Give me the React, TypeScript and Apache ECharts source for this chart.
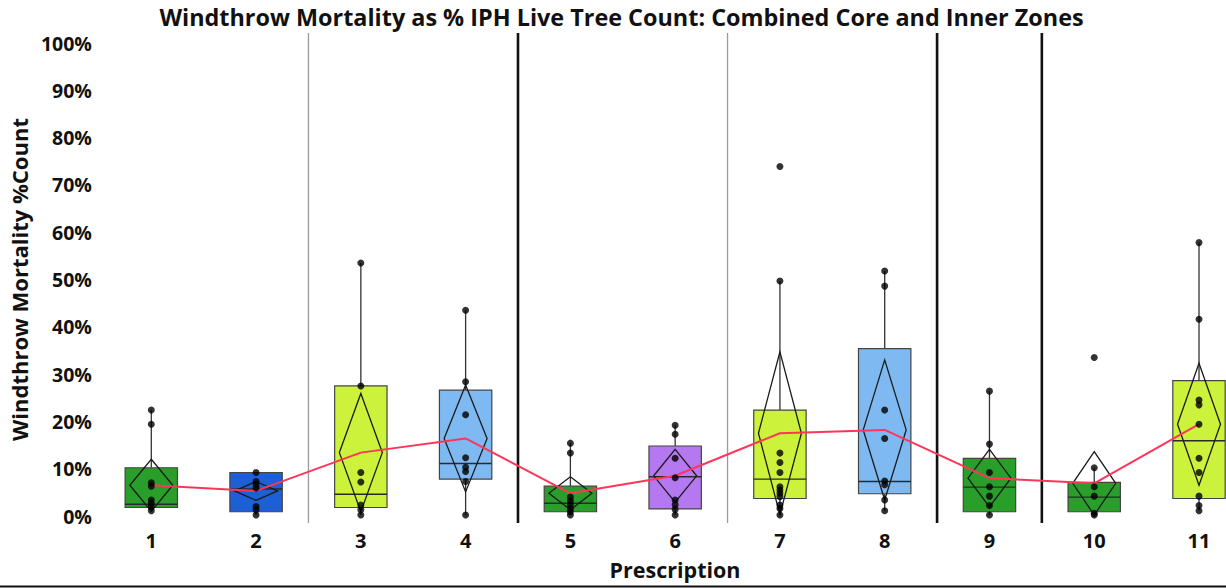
import React, { useEffect, useRef } from "react";
import * as echarts from "echarts";

const categories = ["1", "2", "3", "4", "5", "6", "7", "8", "9", "10", "11"];
const q1 = [1.8, 0.9, 1.8, 7.8, 0.9, 1.5, 3.7, 4.7, 0.9, 0.9, 3.7];
const median = [2.5, 5.7, 4.6, 11.1, 2.7, 8.3, 7.8, 7.3, 6.1, 4.0, 15.9];
const q3 = [10.2, 9.2, 27.5, 26.6, 6.3, 14.8, 22.4, 35.4, 12.2, 7.1, 28.6];
const whiskerLow = [1.1, 0.2, 0.2, 0.2, 0.2, 0.2, 0.2, 1.1, 0.2, 0.2, 1.1];
const whiskerHigh = [22.4, 9.2, 53.5, 43.5, 15.4, 19.2, 49.7, 51.8, 26.4, 10.2, 57.8];
const means = [6.5, 5.3, 13.4, 16.4, 4.8, 8.5, 17.5, 18.2, 8.0, 6.9, 19.4];
const diamondTop = [12.0, 7.3, 25.9, 27.7, 8.3, 14.1, 34.7, 33.0, 14.1, 13.6, 32.3];
const diamondBottom = [1.0, 3.3, 0.9, 5.1, 1.3, 2.9, 0.3, 3.4, 1.9, 0.2, 6.5];
const boxColors = ["#2A9E2A", "#1D5FD4", "#CCF23C", "#7FB9F2", "#2A9E2A", "#B479F0", "#CCF23C", "#7FB9F2", "#2A9E2A", "#2A9E2A", "#CCF23C"];

const points1 = [22.4, 19.4, 7.0, 6.3, 3.4, 2.7, 2.0, 1.1];
const points2 = [9.2, 7.3, 6.6, 5.9, 2.0, 1.3, 0.2];
const points3 = [53.5, 27.5, 9.2, 7.2, 2.3, 1.3, 0.2];
const points4 = [43.5, 28.4, 21.4, 12.3, 10.3, 9.4, 7.3, 0.2];
const points5 = [15.4, 13.3, 4.0, 3.2, 2.4, 1.6, 0.9, 0.2];
const points6 = [19.2, 17.3, 12.2, 8.1, 3.4, 2.4, 1.4, 0.2];
const points7 = [73.9, 49.7, 13.3, 11.3, 9.2, 6.2, 5.5, 4.8, 4.1, 2.3, 1.6, 0.2];
const points8 = [51.8, 48.6, 22.4, 16.4, 7.4, 6.6, 3.4, 1.1];
const points9 = [26.4, 15.2, 9.2, 6.2, 4.2, 2.2, 0.2];
const points10 = [33.5, 10.2, 6.2, 4.2, 0.6, 0.2];
const points11 = [57.8, 41.6, 24.5, 23.5, 19.4, 12.2, 9.2, 4.2, 2.2, 1.1];
const allPoints = [points1, points2, points3, points4, points5, points6, points7, points8, points9, points10, points11];

const separatorAfter = [1, 3, 5, 7, 8];
const separatorHeavy = [0, 1, 0, 1, 1];

const yTicks = [0, 10, 20, 30, 40, 50, 60, 70, 80, 90, 100];

const FONT = "'Open Sans', 'Noto Sans', sans-serif";

export default function App() {
  const ref = useRef<HTMLDivElement>(null);
  useEffect(() => {
    if (!ref.current) return;
    const chart = echarts.init(ref.current, null, { renderer: "svg" });

    const boxData = categories.map((_, i) => [
      i, q1[i], median[i], q3[i], whiskerLow[i], whiskerHigh[i], means[i], diamondTop[i], diamondBottom[i],
    ]);
    const scatterData: number[][] = [];
    allPoints.forEach((arr, i) => arr.forEach((v) => scatterData.push([i, v])));
    const sepData = separatorAfter.map((s, i) => [s, separatorHeavy[i]]);
    const meanData = means.map((m, i) => [i, m]);

    // full plot of 11 bands is 1152.8px wide from x=98.6; the picture is cut at 1226
    const bandPx = 104.8;
    const visibleMax = -0.5 + (1226 - 98.6) / bandPx;

    const option: any = {
      animation: false,
      backgroundColor: "#ffffff",
      grid: { left: 98.6, top: 43, right: 0, height: 473 },
      xAxis: {
        type: "value",
        min: -0.5,
        max: visibleMax,
        axisLine: { show: false },
        axisTick: { show: false },
        splitLine: { show: false },
        axisLabel: {
          customValues: categories.map((_, i) => i),
          formatter: (v: number) => categories[Math.round(v)] ?? "",
          color: "#111",
          fontSize: 20,
          fontWeight: "bold",
          fontFamily: FONT,
          margin: 14,
        },
      },
      yAxis: {
        type: "value",
        min: yTicks[0],
        max: yTicks[yTicks.length - 1],
        interval: 10,
        axisLine: { show: false },
        axisTick: { show: false },
        splitLine: { show: false },
        axisLabel: { color: "#111", fontSize: 19.5, fontWeight: "bold", fontFamily: FONT, margin: 7, formatter: "{value}%" },
        name: "Windthrow Mortality %Count",
        nameLocation: "middle",
        nameRotate: 90,
        nameGap: 66,
        nameTextStyle: { color: "#111", fontSize: 22, fontWeight: "bold", fontFamily: FONT },
      },
      graphic: [
        {
          type: "text",
          x: 621.5,
          y: 17,
          style: {
            text: "Windthrow Mortality as % IPH Live Tree Count: Combined Core and Inner Zones",
            fill: "#111",
            font: `bold 23.4px ${FONT}`,
            textAlign: "center",
            textVerticalAlign: "middle",
          },
        },
        {
          type: "text",
          x: 675,
          y: 569,
          style: {
            text: "Prescription",
            fill: "#111",
            font: `bold 21.5px ${FONT}`,
            textAlign: "center",
            textVerticalAlign: "middle",
          },
        },
        { type: "line", shape: { x1: 0, y1: 586.5, x2: 1226, y2: 586.5 }, style: { stroke: "#111", lineWidth: 2 } },
      ],
      series: [
        {
          type: "custom",
          name: "separators",
          data: sepData,
          encode: { x: 0, y: 1 },
          z: 1,
          silent: true,
          clip: false,
          renderItem: (params: any, api: any) => {
            const idx = api.value(0);
            const heavy = api.value(1);
            const bw = api.size([1, 0])[0];
            const x = api.coord([idx, 0])[0] + bw / 2;
            const yTop = api.coord([idx, 100])[1] - 10;
            const yBot = api.coord([idx, 0])[1] + 7;
            return {
              type: "line",
              shape: { x1: x, y1: yTop, x2: x, y2: yBot },
              style: { stroke: heavy ? "#111" : "#9a9a9a", lineWidth: heavy ? 2.6 : 1.3 },
            };
          },
        },
        {
          type: "custom",
          name: "boxes",
          data: boxData,
          encode: { x: 0, y: [1, 2, 3, 4, 5] },
          z: 2,
          clip: false,
          renderItem: (params: any, api: any) => {
            const idx = api.value(0);
            const bw = api.size([1, 0])[0];
            const x = api.coord([idx, 0])[0];
            const y = (v: number) => api.coord([idx, v])[1];
            const hb = bw * 0.25;
            const hd = bw * 0.205;
            const vq1 = api.value(1), vmed = api.value(2), vq3 = api.value(3);
            const vlo = api.value(4), vhi = api.value(5), vmean = api.value(6);
            const vdt = api.value(7), vdb = api.value(8);
            const color = boxColors[idx];
            return {
              type: "group",
              children: [
                { type: "line", shape: { x1: x, y1: y(vq3), x2: x, y2: y(vhi) }, style: { stroke: "#333", lineWidth: 1.3 } },
                { type: "line", shape: { x1: x, y1: y(vq1), x2: x, y2: y(vlo) }, style: { stroke: "#333", lineWidth: 1.3 } },
                {
                  type: "rect",
                  shape: { x: x - hb, y: y(vq3), width: hb * 2, height: y(vq1) - y(vq3) },
                  style: { fill: color, stroke: "#444", lineWidth: 1.2 },
                },
                { type: "line", shape: { x1: x - hb, y1: y(vmed), x2: x + hb, y2: y(vmed) }, style: { stroke: "#2a2a2a", lineWidth: 1.4 } },
                {
                  type: "polygon",
                  shape: { points: [[x, y(vdt)], [x + hd, y(vmean)], [x, y(vdb)], [x - hd, y(vmean)]] },
                  style: { fill: "none", stroke: "#1a1a1a", lineWidth: 1.3 },
                },
              ],
            };
          },
        },
        {
          type: "line",
          name: "mean",
          data: meanData,
          z: 3,
          symbol: "none",
          lineStyle: { color: "#FF355A", width: 2 },
          silent: true,
        },
        {
          type: "scatter",
          name: "points",
          data: scatterData,
          z: 4,
          symbolSize: 7,
          itemStyle: { color: "#000" },
          silent: true,
        },
      ],
    };
    chart.setOption(option);
    return () => chart.dispose();
  }, []);
  return (
    <div
      ref={ref}
      style={{ position: "fixed", left: 0, top: 0, width: 1226, height: 588, background: "#fff" }}
    />
  );
}
